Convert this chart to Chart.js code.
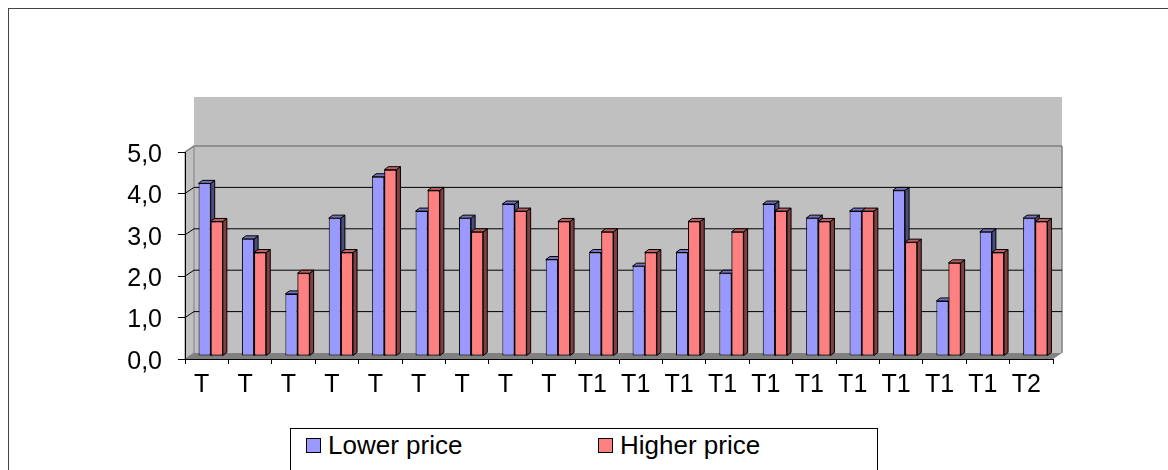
<!DOCTYPE html>
<html>
<head>
<meta charset="utf-8">
<script src="https://cdn.jsdelivr.net/npm/chart.js@4.4.0/dist/chart.umd.min.js"></script>
<style>
  html, body { margin: 0; padding: 0; background: #fff; overflow: hidden; }
  #frame { position: absolute; left: 8px; top: 8px; width: 1300px; height: 600px; border: 1px solid #444; box-sizing: border-box; }
  #wrap { position: absolute; left: 0; top: 0; width: 1168px; height: 470px; }
  #legend { position: absolute; left: 290px; top: 428px; width: 588px; height: 60px; border: 1px solid #000; box-sizing: border-box; background: #fff;
            font-family: "Liberation Sans", Arial, sans-serif; font-size: 26px; color: #000; }
  .item { position: absolute; top: 1px; white-space: nowrap; }
  .sw { display: inline-block; width: 13px; height: 13px; border: 1px solid #000; margin-right: 7px; vertical-align: 1px; }
</style>
</head>
<body>
<div id="frame"></div>
<div id="wrap"><canvas id="chart"></canvas></div>
<div id="legend">
  <span class="item" style="left:15px"><span class="sw" style="background:#9999ff"></span>Lower price</span>
  <span class="item" style="left:307px"><span class="sw" style="background:#ff8080"></span>Higher price</span>
</div>
<script>
// -------------------------------
// data
// -------------------------------
const labels = ['T','T','T','T','T','T','T','T','T',
                'T1','T1','T1','T1','T1','T1','T1','T1','T1','T1','T2'];
const lowerPrice  = [4.17, 2.83, 1.5, 3.33, 4.33, 3.5, 3.33, 3.67, 2.33, 2.5,
                     2.17, 2.5, 2.0, 3.67, 3.33, 3.5, 4.0, 1.33, 3.0, 3.33];
const higherPrice = [3.25, 2.5, 2.0, 2.5, 4.5, 4.0, 3.0, 3.5, 3.25, 3.0,
                     2.5, 3.25, 3.0, 3.5, 3.25, 3.5, 2.75, 2.25, 2.5, 3.25];
const yTicks = [0, 1, 2, 3, 4, 5];

// colours: front face, side face, top face
const blue = { face: '#9999ff', side: '#4c4c80', top: '#7373bf' };
const red  = { face: '#ff8080', side: '#804040', top: '#bf6060' };

const FONT = { family: '"Liberation Sans", Arial, sans-serif', size: 25 };

// wall depth offset (back wall vs front axes) and bar depth
const WDX = 9, WDY = -6;
const BDX = 4, BDY = -3;

// -------------------------------
// helpers
// -------------------------------
function poly(ctx, pts, fill, stroke) {
  ctx.beginPath();
  ctx.moveTo(pts[0][0], pts[0][1]);
  for (let i = 1; i < pts.length; i++) ctx.lineTo(pts[i][0], pts[i][1]);
  ctx.closePath();
  if (fill) { ctx.fillStyle = fill; ctx.fill(); }
  if (stroke) { ctx.strokeStyle = stroke; ctx.lineWidth = 1; ctx.stroke(); }
}

function drawFaces(ctx, bar, col) {
  const p = bar.getProps(['x', 'y', 'base', 'width'], true);
  const l = p.x - p.width / 2, r = p.x + p.width / 2;
  const t = Math.min(p.y, p.base), b = Math.max(p.y, p.base);
  poly(ctx, [[r, t], [r + BDX, t + BDY], [r + BDX, b + BDY], [r, b]], col.side, '#000');
  poly(ctx, [[l, t], [l + BDX, t + BDY], [r + BDX, t + BDY], [r, t]], col.top, '#000');
}

// -------------------------------
// plugin: excel style 3D walls, floor and bar depth
// -------------------------------
const excel3d = {
  id: 'excel3d',
  beforeDraw(chart) {
    const ctx = chart.ctx;
    const a = chart.chartArea;
    const y = chart.scales.y;
    ctx.save();
    // upper grey area + back wall
    ctx.fillStyle = '#c0c0c0';
    ctx.fillRect(a.left + WDX, a.top - 55, a.right - a.left, a.bottom - a.top + 55 + WDY);
    // side wall
    poly(ctx, [[a.left, a.top], [a.left + WDX, a.top + WDY], [a.left + WDX, a.bottom + WDY], [a.left, a.bottom]], '#c0c0c0', '#808080');
    // floor
    poly(ctx, [[a.left, a.bottom], [a.left + WDX, a.bottom + WDY], [a.right + WDX, a.bottom + WDY], [a.right, a.bottom]], '#808080', null);
    // right edge of the wall
    ctx.strokeStyle = '#808080';
    ctx.lineWidth = 1.5;
    ctx.beginPath();
    ctx.moveTo(a.right + WDX, y.getPixelForValue(5) + WDY);
    ctx.lineTo(a.right + WDX, a.bottom + WDY);
    ctx.stroke();
    // gridlines on side and back wall
    yTicks.forEach(v => {
      if (v === 0) return;
      const py = y.getPixelForValue(v);
      ctx.strokeStyle = v === 5 ? '#808080' : '#000';
      ctx.lineWidth = v === 5 ? 1.5 : 1;
      ctx.beginPath();
      ctx.moveTo(a.left, py);
      ctx.lineTo(a.left + WDX, py + WDY);
      ctx.lineTo(a.right + WDX, py + WDY);
      ctx.stroke();
    });
    ctx.restore();
  },
  beforeDatasetsDraw(chart) {
    chart.ctx.save();
    chart.ctx.translate(BDX, BDY);
  },
  afterDatasetsDraw(chart) {
    const ctx = chart.ctx;
    const mBlue = chart.getDatasetMeta(0);
    const mRed = chart.getDatasetMeta(1);
    mBlue.data.forEach((bar, i) => {
      drawFaces(ctx, bar, blue);
      mRed.data[i].draw(ctx);
      drawFaces(ctx, mRed.data[i], red);
    });
    ctx.restore();
  }
};

// -------------------------------
// chart
// -------------------------------
new Chart(document.getElementById('chart'), {
  type: 'bar',
  data: {
    labels: labels,
    datasets: [
      { label: 'Lower price', data: lowerPrice, backgroundColor: blue.face, borderColor: '#000', borderWidth: 1, borderSkipped: false },
      { label: 'Higher price', data: higherPrice, backgroundColor: red.face, borderColor: '#000', borderWidth: 1, borderSkipped: false }
    ]
  },
  options: {
    animation: false,
    responsive: true,
    maintainAspectRatio: false,
    devicePixelRatio: 1,
    layout: { padding: { left: 0, right: 115, top: 152, bottom: 0 } },
    datasets: { bar: { categoryPercentage: 0.56, barPercentage: 1.0 } },
    scales: {
      x: {
        grid: { display: true, drawOnChartArea: false, drawTicks: true, tickLength: 5, color: '#000', offset: true },
        border: { display: true, color: '#000', width: 1 },
        ticks: { color: '#000', font: FONT, padding: 6, maxRotation: 0, autoSkip: false, labelOffset: -5 },
        afterFit: s => { s.height = 111; }
      },
      y: {
        min: 0, max: 5,
        grid: { display: true, drawOnChartArea: false, drawTicks: true, tickLength: 7, color: '#000' },
        border: { display: true, color: '#000', width: 1 },
        ticks: { stepSize: 1, color: '#000', font: FONT, padding: 16, labelOffset: 3,
                 callback: v => v.toFixed(1).replace('.', ',') },
        afterFit: s => { s.width = 185; }
      }
    },
    plugins: { legend: { display: false }, tooltip: { enabled: false } }
  },
  plugins: [excel3d]
});
</script>
</body>
</html>
